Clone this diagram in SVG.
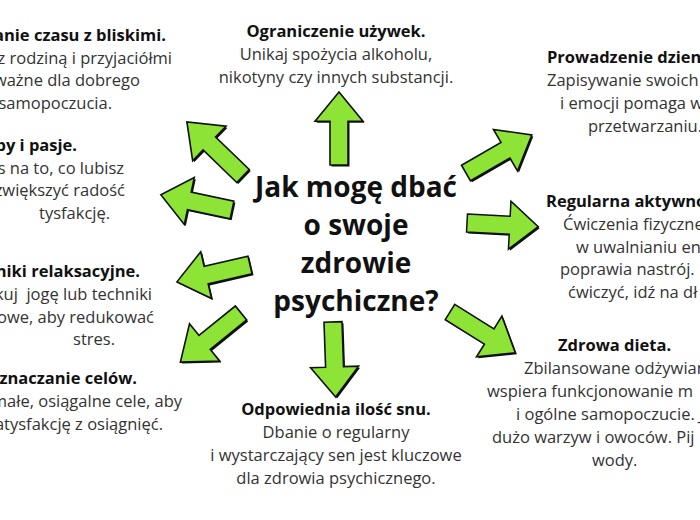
<svg xmlns="http://www.w3.org/2000/svg" xmlns:xlink="http://www.w3.org/1999/xlink" width="700" height="520" viewBox="0 0 700 520">
<style>
.t{font-family:"Open Sans","DejaVu Sans",sans-serif;font-weight:700;font-size:16.5px;fill:#111}
.b{font-family:"Open Sans","DejaVu Sans",sans-serif;font-size:16.5px;fill:#333}
.c{font-family:"Open Sans","DejaVu Sans",sans-serif;font-weight:700;font-size:28px;fill:#111;text-anchor:middle}
.m{text-anchor:middle}
.e{text-anchor:end}
.arr{fill:#8ee436;stroke:#111;stroke-width:1.6;stroke-linejoin:miter}
.sh{fill:#111}
</style>
<defs>
<path id="a" d="M0,-9 L45,-9 L45,-24 L75,0 L45,24 L45,9 L0,9 Z"/>
</defs>
<rect width="700" height="520" fill="#fff"/>

<g id="connectors">
  <use xlink:href="#a" class="sh" transform="translate(340.5,166.5) rotate(-90) scale(0.973,1)"/>
  <use xlink:href="#a" class="arr" transform="translate(339,165) rotate(-90) scale(0.973,1)"/>
  <use xlink:href="#a" class="sh" transform="translate(244.5,177.5) rotate(-136) scale(1.04,1)"/>
  <use xlink:href="#a" class="arr" transform="translate(243,176) rotate(-136) scale(1.04,1)"/>
  <use xlink:href="#a" class="sh" transform="translate(233.5,211.5) rotate(-168) scale(0.97,1)"/>
  <use xlink:href="#a" class="arr" transform="translate(232,210) rotate(-168) scale(0.97,1)"/>
  <use xlink:href="#a" class="sh" transform="translate(251.5,266.5) rotate(167)"/>
  <use xlink:href="#a" class="arr" transform="translate(250,265) rotate(167)"/>
  <use xlink:href="#a" class="sh" transform="translate(242.5,314.5) rotate(141) scale(1.04,1)"/>
  <use xlink:href="#a" class="arr" transform="translate(241,313) rotate(141) scale(1.04,1)"/>
  <use xlink:href="#a" class="sh" transform="translate(334.5,323.5) rotate(88)"/>
  <use xlink:href="#a" class="arr" transform="translate(333,322) rotate(88)"/>
  <use xlink:href="#a" class="sh" transform="translate(467.5,174.5) rotate(-30) scale(1.013,1)"/>
  <use xlink:href="#a" class="arr" transform="translate(466,173) rotate(-30) scale(1.013,1)"/>
  <use xlink:href="#a" class="sh" transform="translate(468.5,224.5) rotate(3) scale(0.95,1)"/>
  <use xlink:href="#a" class="arr" transform="translate(467,223) rotate(3) scale(0.95,1)"/>
  <use xlink:href="#a" class="sh" transform="translate(451.5,313.5) rotate(32) scale(1.027,1)"/>
  <use xlink:href="#a" class="arr" transform="translate(450,312) rotate(32) scale(1.027,1)"/>
</g>

<g id="center">
  <text class="c" x="356" y="197">Jak mogę dbać</text>
  <text class="c" x="356" y="235">o swoje</text>
  <text class="c" x="356" y="273">zdrowie</text>
  <text class="c" x="356" y="311">psychiczne?</text>
</g>

<g id="uzywki">
  <text class="t m" x="336" y="37">Ograniczenie używek.</text>
  <text class="b m" x="336" y="60">Unikaj spożycia alkoholu,</text>
  <text class="b m" x="336" y="83">nikotyny czy innych substancji.</text>
</g>

<g id="sen">
  <text class="t m" x="336" y="415">Odpowiednia ilość snu.</text>
  <text class="b m" x="336" y="438">Dbanie o regularny</text>
  <text class="b m" x="336" y="461">i wystarczający sen jest kluczowe</text>
  <text class="b m" x="336" y="484">dla zdrowia psychicznego.</text>
</g>

<g id="bliscy">
  <text class="t e" x="166" y="41">anie czasu z bliskimi.</text>
  <text class="b e" x="172" y="64">z rodziną i przyjaciółmi</text>
  <text class="b e" x="140" y="86">ważne dla dobrego</text>
  <text class="b e" x="112" y="109">samopoczucia.</text>
</g>

<g id="hobby">
  <text class="t e" x="77" y="151">by i pasje.</text>
  <text class="b e" x="124" y="174">s na to, co lubisz</text>
  <text class="b e" x="125" y="196">zwiększyć radość</text>
  <text class="b" x="39" y="219">tysfakcję.</text>
</g>

<g id="relaks">
  <text class="t e" x="140" y="277">niki relaksacyjne.</text>
  <text class="b e" x="152" y="300" xml:space="preserve">kuj  jogę lub techniki</text>
  <text class="b e" x="154" y="323">owe, aby redukować</text>
  <text class="b e" x="115" y="345">stres.</text>
</g>

<g id="cele">
  <text class="t e" x="137" y="384">znaczanie celów.</text>
  <text class="b e" x="182" y="407">małe, osiągalne cele, aby</text>
  <text class="b e" x="163" y="430">atysfakcję z osiągnięć.</text>
</g>

<g id="dziennik">
  <text class="t" x="547" y="63">Prowadzenie dzien</text>
  <text class="b" x="547" y="86">Zapisywanie swoich</text>
  <text class="b" x="560" y="109">i emocji pomaga w</text>
  <text class="b" x="588" y="132">przetwarzaniu.</text>
</g>

<g id="aktywnosc">
  <text class="t" x="546" y="207">Regularna aktywno</text>
  <text class="b" x="563" y="230">Ćwiczenia fizyczne</text>
  <text class="b" x="576" y="253">w uwalnianiu en</text>
  <text class="b" x="560" y="275">poprawia nastrój.</text>
  <text class="b" x="568" y="298">ćwiczyć, idź na dł</text>
</g>

<g id="dieta">
  <text class="t" x="558" y="351">Zdrowa dieta.</text>
  <text class="b" x="524" y="374">Zbilansowane odżywian</text>
  <text class="b" x="487" y="397">wspiera funkcjonowanie m</text>
  <text class="b" x="516" y="420">i ogólne samopoczucie. J</text>
  <text class="b" x="492" y="443">dużo warzyw i owoców. Pij</text>
  <text class="b" x="592" y="466">wody.</text>
</g>
</svg>
